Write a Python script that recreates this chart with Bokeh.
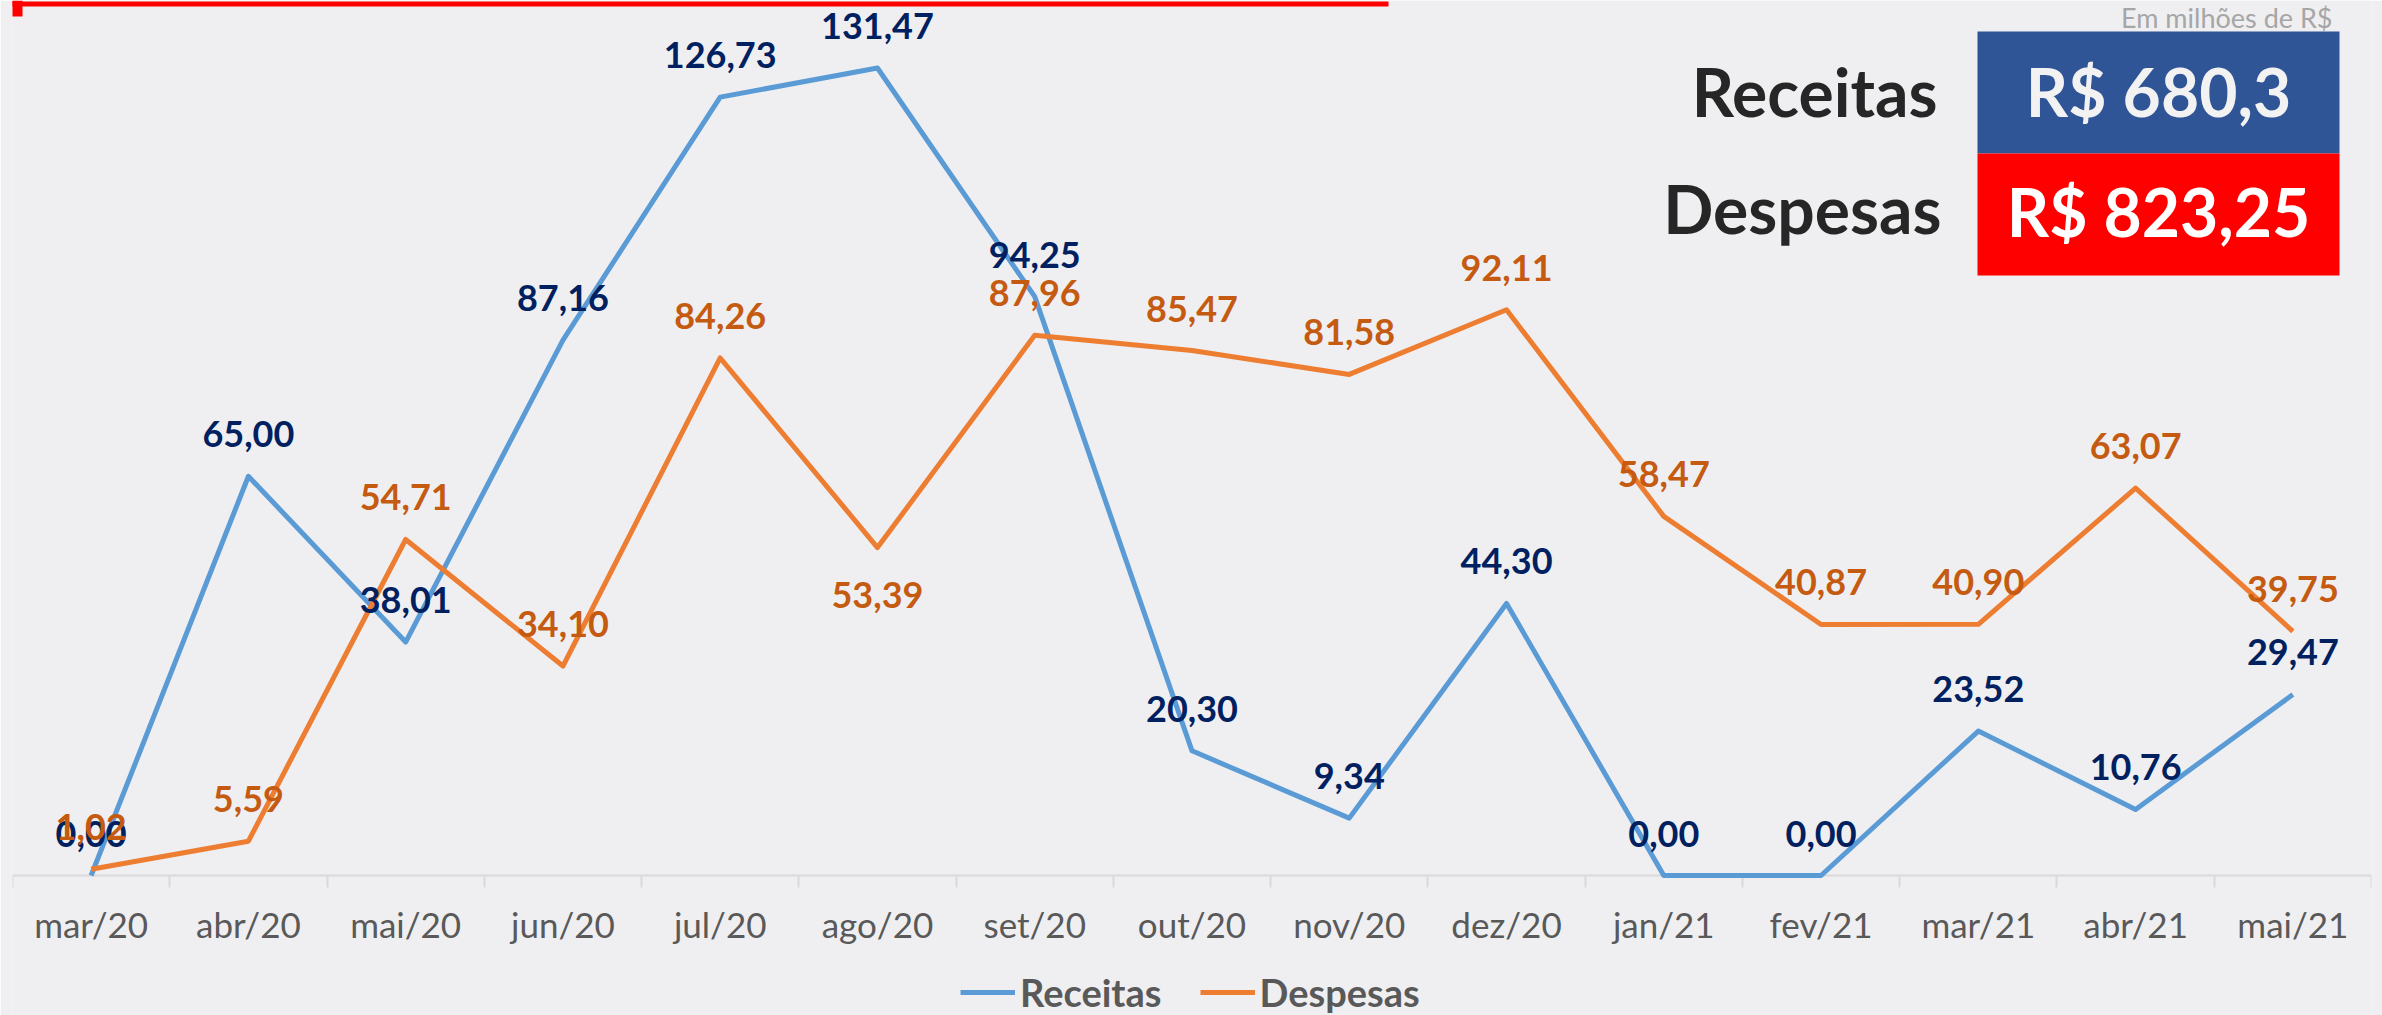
from bokeh.plotting import figure
from bokeh.models import (Range1d, FixedTicker, Legend, LegendItem, Label,
                          BoxAnnotation, ColumnDataSource)
from bokeh.embed import file_html
from bokeh.resources import INLINE
from bokeh.core.properties import value

# ---------------- data ----------------
categories = ["mar/20", "abr/20", "mai/20", "jun/20", "jul/20", "ago/20", "set/20",
              "out/20", "nov/20", "dez/20", "jan/21", "fev/21", "mar/21", "abr/21", "mai/21"]
receitas = [0.00, 65.00, 38.01, 87.16, 126.73, 131.47, 94.25, 20.30, 9.34, 44.30,
            0.00, 0.00, 23.52, 10.76, 29.47]
despesas = [1.02, 5.59, 54.71, 34.10, 84.26, 53.39, 87.96, 85.47, 81.58, 92.11,
            58.47, 40.87, 40.90, 63.07, 39.75]
despesas_label_side = ["above"] * 5 + ["below"] + ["above"] * 9
unit_note = "Em milhões de R$"

# ---------------- styles / layout ----------------
BG = "#EFEFF2"
BLUE_LINE = "#5B9BD5"
ORANGE_LINE = "#ED7D31"
BLUE_LABEL = "#002060"
ORANGE_LABEL = "#C55A11"
AXIS_GRAY = "#D9D9D9"
TEXT_GRAY = "#595959"
FONT = "Lato"

W, H = 2382, 1015
FRAME_LEFT = 12
FRAME_RIGHT_BORDER = 11
ZERO_Y = 875          # page y of the value 0 (category axis)
PX_PER_UNIT = 6.142


def fx(px):
    return px - FRAME_LEFT


def fy(py):
    return H - py     # frame fills the full height


def fmt(v):
    return f"{v:.2f}".replace(".", ",")


xs = [i + 0.5 for i in range(len(categories))]

p = figure(width=W, height=H, x_range=Range1d(0, len(categories)),
           y_range=Range1d(-(H - ZERO_Y) / PX_PER_UNIT, ZERO_Y / PX_PER_UNIT),
           y_axis_location=None, toolbar_location=None, output_backend="svg",
           min_border_left=FRAME_LEFT, min_border_right=FRAME_RIGHT_BORDER,
           min_border_top=0, min_border_bottom=0,
           background_fill_color=BG, border_fill_color=BG, outline_line_color=None)
p.grid.visible = False

# category axis drawn at value 0
ax = p.xaxis[0]
ax.fixed_location = 0
ax.ticker = FixedTicker(ticks=xs, minor_ticks=list(range(len(categories) + 1)))
ax.major_label_overrides = {x: c for x, c in zip(xs, categories)}
ax.axis_line_color = AXIS_GRAY
ax.axis_line_width = 2
ax.major_tick_line_color = None
ax.major_tick_out = 12
ax.major_tick_in = 0
ax.minor_tick_line_color = AXIS_GRAY
ax.minor_tick_line_width = 2
ax.minor_tick_out = 12
ax.minor_tick_in = 0
ax.major_label_standoff = 15
ax.major_label_text_font = FONT
ax.major_label_text_font_size = "35px"
ax.major_label_text_color = TEXT_GRAY

src = ColumnDataSource(dict(
    x=xs, rec=receitas, desp=despesas,
    rec_lbl=[fmt(v) for v in receitas],
    desp_lbl=[fmt(v) for v in despesas],
    desp_off=[-42 if s == "above" else 47 for s in despesas_label_side],
))

r_rec = p.line("x", "rec", source=src, line_color=BLUE_LINE, line_width=5,
               line_join="round", level="annotation")
r_desp = p.line("x", "desp", source=src, line_color=ORANGE_LINE, line_width=5,
                line_join="round", level="annotation")

p.text("x", "rec", text="rec_lbl", source=src, text_font=value(FONT), text_font_style="bold",
       text_font_size="36px", text_color=BLUE_LABEL, text_align="center",
       text_baseline="middle", y_offset=-42, level="annotation")
p.text("x", "desp", text="desp_lbl", source=src, text_font=value(FONT), text_font_style="bold",
       text_font_size="36px", text_color=ORANGE_LABEL, text_align="center",
       text_baseline="middle", y_offset="desp_off", level="annotation")

# legend under the axis (bottom-left corner, frame-relative screen units)
legend = Legend(items=[LegendItem(label="Receitas", renderers=[r_rec]),
                       LegendItem(label="Despesas", renderers=[r_desp])],
                location=(fx(960), fy(1015)), orientation="horizontal",
                padding=0, margin=0, spacing=38, border_line_color=None,
                background_fill_alpha=0, glyph_width=55, glyph_height=40,
                label_height=40, label_standoff=5,
                label_text_font=FONT, label_text_font_style="bold",
                label_text_font_size="38px", label_text_color=TEXT_GRAY,
                label_text_baseline="middle")
p.add_layout(legend, "center")


def screen_box(left, right, top, bottom, color):
    return BoxAnnotation(left=fx(left), right=fx(right), top=fy(top), bottom=fy(bottom),
                         left_units="screen", right_units="screen",
                         top_units="screen", bottom_units="screen",
                         fill_color=color, fill_alpha=1, line_color=None)


# red bar at the top
p.add_layout(screen_box(0, 1388, 1, 6, "#FF0000"))
p.add_layout(screen_box(7, 22, 0, 16, "#FF0000"))

# totals panel
total_rec = sum(receitas)
total_desp = sum(despesas)
p.add_layout(screen_box(1977, 2339, 31, 153, "#2F5597"))
p.add_layout(screen_box(1977, 2339, 153, 275, "#FF0000"))

for txt, x, y, align, color in [
    ("Receitas", 1937, 91, "right", "#262626"),
    ("Despesas", 1941, 208, "right", "#262626"),
    ("R$ " + f"{total_rec:.1f}".replace(".", ","), 2158, 91, "center", "#F2F2F2"),
    ("R$ " + fmt(total_desp), 2158, 211, "center", "#FFFFFF"),
]:
    p.add_layout(Label(x=fx(x), y=fy(y), x_units="screen", y_units="screen", text=txt,
                       text_align=align, text_baseline="alphabetic", text_font=FONT,
                       text_font_style="bold", text_font_size="66px", text_color=color))

p.add_layout(Label(x=fx(2332), y=fy(17), x_units="screen", y_units="screen", text=unit_note,
                   text_align="right", text_baseline="alphabetic", text_font=FONT,
                   text_font_size="27px", text_color="#A6A6A6"))

open("out.html", "w").write(file_html(p, INLINE))
